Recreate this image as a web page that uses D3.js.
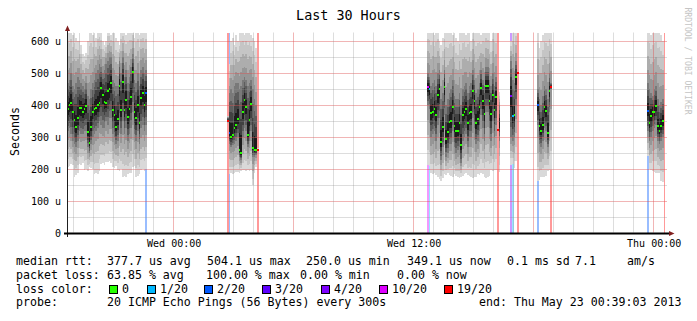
<!DOCTYPE html>
<meta charset="utf-8">
<script src="https://d3js.org/d3.v7.min.js"></script>
<style>
  body { margin: 0; background: #fff; }
  text { font-family: "DejaVu Sans Mono", monospace; }
</style>
<div id="chart"></div>
<script>

// one entry per run of 5 minute steps that has data
var segmentStart = ["2013-05-21T18:40:00Z", "2013-05-22T02:40:00Z", "2013-05-22T12:40:00Z",
                    "2013-05-22T16:50:00Z", "2013-05-22T18:10:00Z", "2013-05-22T23:40:00Z"];

// median rtt, microseconds
var median = [
  [388,400,409,380,355,332,360,391,391,381, 390,399,317,283,334,379,390,391,400,409,
   456,433,412,409,445,450,470,387,371,334, 358,461,387,473,387,418,363,390,428,504,
   381,360,402,345,423,440,403,438],
  [353,314,303,308,329,340,358,262,250,379,417,394,309,355,405,267,261,261,261],
  [459,451,378,379,389,371,433,450,286,334, 457,295,316,347,351,394,337,321,321,346,
   278,371,380,389,344,378,380,444,413,346, 358,396,455,414,373,462,462,414,373,434,
   386,426,322,null],
  [431,366,369,488,501],
  [400,335,321,338,394,382,315,444,459],
  [384,344,368,380,381,399,335,321,337,351,null]
];

// lost pings out of 20
var lossCount = [
  [0,0,0,0,0,0,0,0,0,0, 0,0,0,0,0,0,0,0,0,0, 0,0,0,0,0,0,0,0,0,0, 0,0,0,0,0,0,0,0,0,0, 0,0,0,0,0,0,0,2],
  [19,2,0,0,0,0,0,0,0,0,0,0,0,0,0,0,0,0,19],
  [10,1,0,0,0,0,0,0,0,0, 0,0,0,0,0,0,0,0,0,0, 0,0,0,0,0,0,0,0,0,0, 0,0,0,0,0,0,0,0,0,0, 0,0,19,0],
  [4,1,0,0,19],
  [2,0,0,0,0,0,0,0,19],
  [2,0,0,0,0,0,0,0,0,0,20]
];

// smoke: highest ping, upper and lower edge of the dark core, lowest ping
var smokeHi = [
  [640,630,640,620,640,610,600,640,590,560, 555,565,600,640,640,620,640,610,640,640,
   630,600,590,600,640,640,620,640,640,610, 600,590,640,640,640,620,640,640,630,640,
   610,640,640,620,640,640,630,640],
  [368,530,600,610,590,620,600,630,640,640,620,640,630,640,620,610,600,580,266],
  [640,640,630,640,620,640,640,600,590,610, 640,640,630,640,640,620,640,610,600,640,
   630,640,640,620,640,640,600,640,640,630, 640,640,620,640,640,640,630,640,600,640,
   640,630,325,441],
  [600,640,630,640,505],
  [640,580,600,620,640,640,640,640,630],
  [640,640,620,640,640,640,630,640,620,600,null]
];
var smokeUp = [
  [470,480,500,460,450,470,490,480,470,460, 450,470,430,420,450,470,480,500,510,530,
   520,500,510,530,540,550,550,480,470,460, 460,540,500,550,490,510,470,490,520,560,
   480,470,500,460,510,520,500,510],
  [362,440,450,440,460,470,470,450,460,480,490,480,460,470,480,450,420,400,264],
  [500,490,460,470,480,460,500,510,420,440, 510,400,420,440,450,480,430,420,420,440,
   400,450,460,470,440,460,470,510,480,440, 450,470,510,480,460,520,520,480,460,500,
   460,490,323,400],
  [540,480,470,540,503],
  [450,420,400,430,460,450,420,500,470],
  [470,450,440,430,450,460,420,400,410,420,null]
];
var smokeDn = [
  [320,330,310,290,280,270,290,320,310,310, 320,320,270,250,280,300,310,320,330,350,
   340,330,330,350,340,360,360,310,300,280, 290,350,310,350,310,330,290,310,330,380,
   310,290,320,280,330,340,320,340],
  [348,280,270,275,280,290,300,240,230,300,330,320,270,290,320,240,240,245,259],
  [400,390,300,310,320,290,340,360,230,270, 370,240,250,280,280,320,270,250,260,270,
   220,290,300,310,270,300,300,360,330,280, 290,320,370,330,290,380,380,330,290,350,
   300,340,321,290],
  [300,290,300,400,499],
  [340,280,270,290,330,320,270,380,450],
  [320,290,300,320,330,340,290,280,290,300,null]
];
var smokeLo = [
  [207,212,217,214,178,182,190,217,215,220, 197,200,195,207,205,200,186,190,185,195,
   217,220,215,222,222,225,220,207,205,210, 197,195,200,176,180,178,186,190,188,207,
   210,176,180,185,197,200,195,202],
  [345,186,188,186,190,191,192,190,195,197,198,196,197,195,197,150,190,207,258],
  [215,210,190,186,188,184,176,170,165,172, 186,184,188,182,181,178,185,180,176,172,
   178,180,186,188,184,180,176,172,178,175, 186,184,188,186,176,174,178,180,197,195,
   199,197,320,192],
  [215,217,205,228,497],
  [165,168,176,176,178,180,195,197,197],
  [243,200,197,195,192,190,190,188,165,160,null]
];

var lossLevels = [0, 1, 2, 3, 4, 10, 19];
var lossLabels = ["0", "1/20", "2/20", "3/20", "4/20", "10/20", "19/20"];
var lossColors = ["#26ff00", "#00b8ff", "#0059ff", "#5e00ff", "#7e00ff", "#dd00ff", "#ff0000"];

var yTicks = [0, 100, 200, 300, 400, 500, 600];
var yMinor = [50, 150, 250, 350, 450, 550];

var rttStats = ["median rtt:", "377.7 us avg", "504.1 us max", "250.0 us min", "349.1 us now", "0.1 ms sd", "7.1", "am/s"];
var lossStats = ["packet loss:", "63.85 % avg", "100.00 % max", "0.00 % min", "0.00 % now"];
var probeInfo = ["probe:", "20 ICMP Echo Pings (56 Bytes) every 300s", "end: Thu May 23 00:39:03 2013"];

// ---------------------------------------------------------------

var W = 697, H = 321;
var svg = d3.select("#chart").append("svg")
  .attr("width", W)
  .attr("height", H);

var x = d3.scaleUtc()
  .domain([new Date("2013-05-21T18:40:00Z"), new Date("2013-05-23T00:40:00Z")])
  .range([67, 667]);
var y = d3.scaleLinear()
  .domain([0, 628])
  .range([233.5, 32.5])
  .clamp(true);

function lossColor(n) {
  var c = lossColors[0];
  lossLevels.forEach(function(l, i) { if (n >= l) c = lossColors[i]; });
  return c;
}

// flatten segments into steps
var stepMs = 5 * 60 * 1000;
var steps = [];
segmentStart.forEach(function(s, i) {
  var t0 = new Date(s).getTime();
  median[i].forEach(function(m, j) {
    steps.push({
      t: new Date(t0 + j * stepMs), t1: new Date(t0 + (j + 1) * stepMs),
      med: m, loss: lossCount[i][j],
      hi: smokeHi[i][j], up: smokeUp[i][j], dn: smokeDn[i][j], lo: smokeLo[i][j]
    });
  });
});

// loss bars behind the smoke
svg.append("g").selectAll("rect")
  .data(steps.filter(function(d) { return d.loss > 0; }))
  .enter().append("rect")
    .attr("x", function(d) { return x(d.t); })
    .attr("width", function(d) { return x(d.t1) - x(d.t); })
    .attr("y", y(628))
    .attr("height", y(0) - y(628))
    .attr("fill", function(d) { return lossColor(d.loss); })
    .attr("opacity", 0.4)
    .attr("shape-rendering", "crispEdges");

// smoke, light outside -> dark near the median
var layers = [[0, "#d9d9d9"], [0.12, "#c5c5c5"], [0.25, "#adadad"], [0.38, "#969696"],
              [0.5, "#797979"], [0.62, "#5d5d5d"], [0.74, "#414141"], [0.86, "#1c1c1c"]];
function bounds(d, f) {
  var c = d.med != null ? d.med : (d.up + d.dn) / 2;
  if (f <= 0.5) {
    var k = f / 0.5;
    return [d.hi + (d.up - d.hi) * k, d.lo + (d.dn - d.lo) * k];
  }
  var k2 = (f - 0.5) / 0.5;
  return [d.up + (c - d.up) * k2, d.dn + (c - d.dn) * k2];
}
var smokeSteps = steps.filter(function(d) { return d.hi != null; });
layers.forEach(function(L) {
  svg.append("g").selectAll("rect")
    .data(smokeSteps)
    .enter().append("rect")
      .attr("x", function(d) { return x(d.t); })
      .attr("width", function(d) { return x(d.t1) - x(d.t); })
      .attr("y", function(d) { return y(bounds(d, L[0])[0]); })
      .attr("height", function(d) { var b = bounds(d, L[0]); return Math.max(0.01, y(b[1]) - y(b[0])); })
      .attr("fill", L[1])
      .attr("shape-rendering", "crispEdges");
});

// grid on top
var grid = svg.append("g");
yMinor.forEach(function(v) {
  grid.append("line").attr("x1", 67).attr("x2", 667)
    .attr("y1", Math.floor(y(v)) + 0.5).attr("y2", Math.floor(y(v)) + 0.5)
    .attr("stroke", "rgba(143,143,143,0.3)");
});
yTicks.slice(1).forEach(function(v) {
  grid.append("line").attr("x1", 67).attr("x2", 667)
    .attr("y1", Math.floor(y(v)) + 0.5).attr("y2", Math.floor(y(v)) + 0.5)
    .attr("stroke", "rgba(222,79,79,0.42)");
});
var hours = x.ticks(d3.utcHour.every(1));
hours.forEach(function(t) {
  var major = t.getUTCHours() % 6 === 0;
  var px = Math.floor(x(t)) + 0.5;
  grid.append("line").attr("x1", px).attr("x2", px)
    .attr("y1", 32.5).attr("y2", 232.5)
    .attr("stroke", major ? "rgba(222,79,79,0.42)" : "rgba(143,143,143,0.3)");
});

// median squares coloured by loss
svg.append("g").selectAll("rect")
  .data(steps.filter(function(d) { return d.med != null; }))
  .enter().append("rect")
    .attr("x", function(d) { return x(d.t); })
    .attr("width", function(d) { return x(d.t1) - x(d.t); })
    .attr("y", function(d) { return y(d.med) - 1; })
    .attr("height", 2)
    .attr("fill", function(d) { return lossColor(d.loss); })
    .attr("shape-rendering", "crispEdges");

// axes
svg.append("line").attr("x1", 67.5).attr("x2", 67.5).attr("y1", 237).attr("y2", 29)
  .attr("stroke", "#1f1f1f");
svg.append("line").attr("x1", 64).attr("x2", 669).attr("y1", 233.5).attr("y2", 233.5)
  .attr("stroke", "#000").attr("stroke-width", 2);
svg.append("path").attr("d", "M65,31L67.5,25.5L70,31Z").attr("fill", "#801f1f");
svg.append("path").attr("d", "M669,231L674.5,233.5L669,236Z").attr("fill", "#801f1f");

var xAxis = svg.append("g")
  .attr("transform", "translate(0,233)")
  .call(d3.axisBottom(x)
    .tickValues(x.ticks(d3.utcHour.every(12)))
    .tickSize(0).tickPadding(7)
    .tickFormat(d3.utcFormat("%a %H:%M")));
xAxis.select(".domain").remove();
xAxis.selectAll("text").attr("font-family", "DejaVu Sans Mono").style("font-size", "10px").attr("fill", "#000");

var yAxis = svg.append("g")
  .attr("transform", "translate(67,0)")
  .call(d3.axisLeft(y)
    .tickValues(yTicks)
    .tickSize(0).tickPadding(6)
    .tickFormat(function(v) { return v ? v + " u" : "0"; }));
yAxis.select(".domain").remove();
yAxis.selectAll("text").attr("font-family", "DejaVu Sans Mono").style("font-size", "10px").attr("fill", "#000");

// titles
svg.append("text")
  .attr("x", 348.5).attr("y", 20)
  .attr("text-anchor", "middle")
  .style("font-size", "13.4px")
  .text("Last 30 Hours");

svg.append("text")
  .attr("transform", "translate(18.5,131.5) rotate(-90)")
  .attr("text-anchor", "middle")
  .style("font-size", "11.6px")
  .text("Seconds");

svg.append("text")
  .attr("transform", "translate(684.5,61) rotate(90)")
  .attr("text-anchor", "middle")
  .style("font-size", "8.1px")
  .attr("fill", "#c4c4c4")
  .text("RRDTOOL / TOBI OETIKER");

// legend
var legend = svg.append("g").style("font-size", "11.6px").attr("fill", "#000");
var rttX = [16, 107, 207, 306, 407, 507, 575, 627];
rttStats.forEach(function(s, i) {
  legend.append("text").attr("x", rttX[i]).attr("y", 265.3).style("white-space", "pre").text(s);
});
var lossX = [16, 107, 206, 300, 397];
lossStats.forEach(function(s, i) {
  legend.append("text").attr("x", lossX[i]).attr("y", 278.8).style("white-space", "pre").text(s);
});
legend.append("text").attr("x", 16).attr("y", 292.5).text("loss color:");
var boxX = [109, 147, 204, 262, 321, 379, 444];
lossLabels.forEach(function(s, i) {
  legend.append("rect")
    .attr("x", boxX[i] + 0.5).attr("y", 285.5)
    .attr("width", 8).attr("height", 8)
    .attr("fill", lossColors[i])
    .attr("stroke", "#000");
  legend.append("text").attr("x", boxX[i] + 13).attr("y", 292.5).text(s);
});
var probeX = [16, 107, 479];
probeInfo.forEach(function(s, i) {
  legend.append("text").attr("x", probeX[i]).attr("y", 306).style("white-space", "pre").text(s);
});

</script>
